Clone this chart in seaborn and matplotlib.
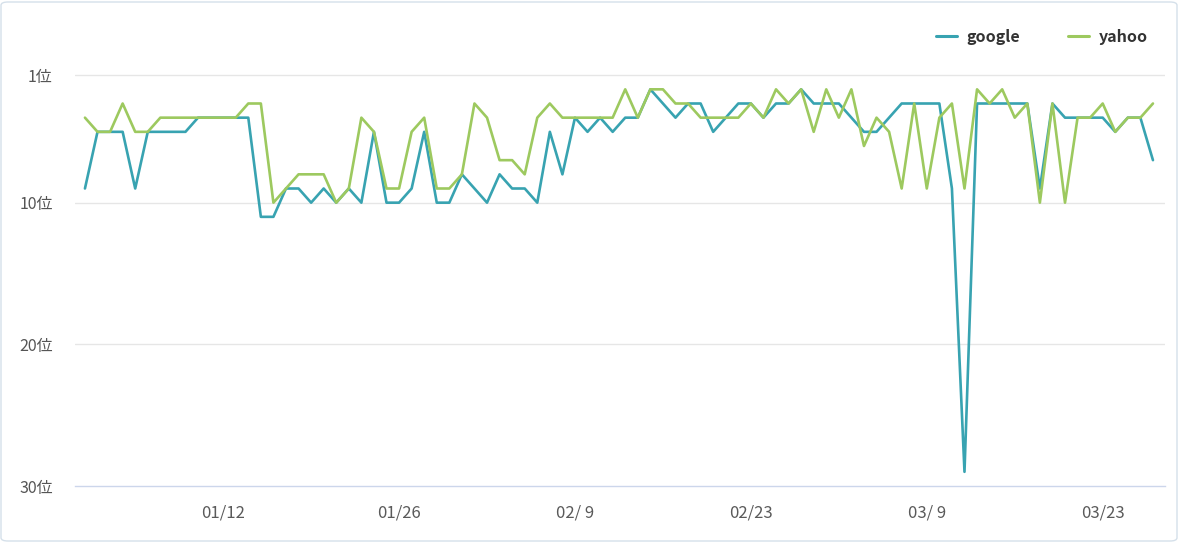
import matplotlib
matplotlib.use("Agg")
import matplotlib.pyplot as plt
from matplotlib.patches import FancyBboxPatch
from matplotlib.ticker import FuncFormatter
import seaborn as sns
import pandas as pd

# daily search rank, 2021-01-01 .. 2021-03-27
dates = pd.date_range("2021-01-01", periods=86, freq="D")
google = [9, 5, 5, 5, 9, 5, 5, 5, 5, 4, 4, 4, 4, 4, 11, 11, 9, 9, 10, 9,
          10, 9, 10, 5, 10, 10, 9, 5, 10, 10, 8, 9, 10, 8, 9, 9, 10, 5, 8, 4,
          5, 4, 5, 4, 4, 2, 3, 4, 3, 3, 5, 4, 3, 3, 4, 3, 3, 2, 3, 3,
          3, 4, 5, 5, 4, 3, 3, 3, 3, 9, 29, 3, 3, 3, 3, 3, 9, 3, 4, 4,
          4, 4, 5, 4, 4, 7]
yahoo = [4, 5, 5, 3, 5, 5, 4, 4, 4, 4, 4, 4, 4, 3, 3, 10, 9, 8, 8, 8,
         10, 9, 4, 5, 9, 9, 5, 4, 9, 9, 8, 3, 4, 7, 7, 8, 4, 3, 4, 4,
         4, 4, 4, 2, 4, 2, 2, 3, 3, 4, 4, 4, 4, 3, 4, 2, 3, 2, 5, 2,
         4, 2, 6, 4, 5, 9, 3, 9, 4, 3, 9, 2, 3, 2, 4, 3, 10, 3, 10, 4,
         4, 3, 5, 4, 4, 3]
series_names = ["google", "yahoo"]
series_colors = ["#38a3b1", "#9dc95f"]
y_ticks = [1, 10, 20, 30]
x_ticks = pd.to_datetime(["2021-01-12", "2021-01-26", "2021-02-09",
                          "2021-02-23", "2021-03-09", "2021-03-23"])

df = pd.DataFrame({"date": list(dates) * 2,
                   "rank": google + yahoo,
                   "engine": ["google"] * len(google) + ["yahoo"] * len(yahoo)})

sns.set_style("white")
plt.rcParams["font.family"] = ["Noto Sans CJK JP", "DejaVu Sans"]

W, H = 1179, 542
fig = plt.figure(figsize=(W / 100, H / 100), dpi=100)
ax = fig.add_axes([75 / W, (H - 486) / H, (1165 - 75) / W, (486 - 61) / H])

sns.lineplot(data=df, x="date", y="rank", hue="engine", hue_order=series_names,
             palette=series_colors, linewidth=1.9, ax=ax, legend=False)

ax.set_ylim(30, 0)
ax.set_xlim(dates[0] - pd.Timedelta(hours=19), dates[-1] + pd.Timedelta(hours=23))
ax.set_yticks(y_ticks)
ax.set_yticklabels([f"{t}位" for t in y_ticks])
ax.set_xticks(x_ticks)


def day_label(v, pos):
    d = matplotlib.dates.num2date(v)
    return "{:02d}/{:>2d}".format(d.month, d.day)


ax.xaxis.set_major_formatter(FuncFormatter(day_label))
ax.set_xlabel("")
ax.set_ylabel("")

for t in y_ticks[:-1]:
    ax.axhline(t, color="#e6e6e6", linewidth=1, zorder=0)

for s in ["top", "right", "left"]:
    ax.spines[s].set_visible(False)
ax.spines["bottom"].set_color("#ccd6eb")
ax.spines["bottom"].set_linewidth(1)

ax.tick_params(axis="y", length=0, pad=16, labelsize=11.5, labelcolor="#555555")
ax.tick_params(axis="x", length=10, width=1, color="#ccd6eb", pad=3,
               labelsize=12, labelcolor="#5a5a5a")

handles = [plt.Line2D([], [], color=c, linewidth=2.2) for c in series_colors]
leg = fig.legend(handles, series_names, loc="center right",
                 bbox_to_anchor=(1162 / W, 1 - 37 / H), ncol=2, frameon=False,
                 handlelength=1.3, handletextpad=0.6, columnspacing=3.0,
                 prop={"size": 11.5, "weight": "bold"})
for t in leg.get_texts():
    t.set_color("#333333")

border = FancyBboxPatch((1 / W, 1 / H), 1 - 3 / W, 1 - 3 / H,
                        boxstyle="round,pad=0,rounding_size=0.006",
                        transform=fig.transFigure, fill=False,
                        edgecolor="#d5e0ea", linewidth=1)
fig.patches.append(border)

fig.savefig("out.png", dpi=100)
